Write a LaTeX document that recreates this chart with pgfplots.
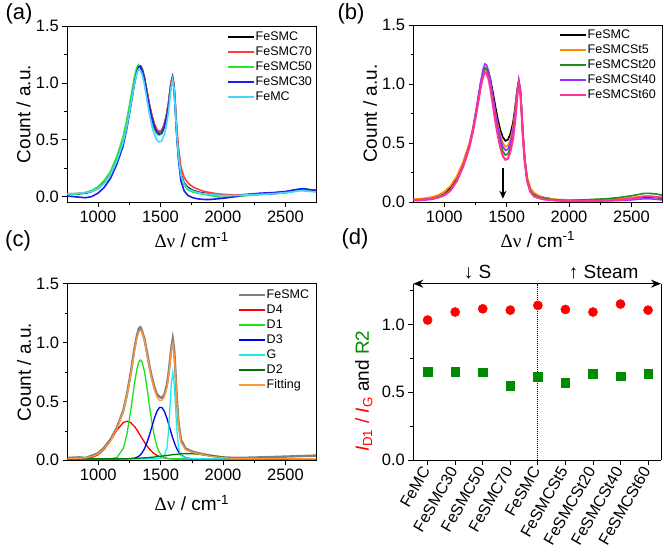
\documentclass[border=0pt]{standalone}
\usepackage{pgfplots}
\pgfplotsset{compat=1.18}
\usepackage{pgfplotstable}
\usepackage{fontspec}
\setmainfont{Liberation Sans}
\newfontfamily\grk{Liberation Serif}
\usetikzlibrary{arrows.meta}

\definecolor{aRed}{RGB}{255,60,60}
\definecolor{aGreen}{RGB}{40,230,40}
\definecolor{aBlue}{RGB}{30,30,235}
\definecolor{aCyan}{RGB}{70,215,255}
\definecolor{bOrange}{RGB}{255,140,0}
\definecolor{bGreen}{RGB}{30,140,30}
\definecolor{bPurple}{RGB}{150,50,255}
\definecolor{bPink}{RGB}{255,50,150}
\definecolor{cGray}{RGB}{128,128,128}
\definecolor{cRed}{RGB}{250,0,0}
\definecolor{cGreen}{RGB}{30,225,30}
\definecolor{cBlue}{RGB}{0,0,245}
\definecolor{cCyan}{RGB}{30,235,240}
\definecolor{cDGreen}{RGB}{0,120,0}
\definecolor{cOrange}{RGB}{255,150,60}
\definecolor{dRed}{RGB}{255,0,0}
\definecolor{dGreen}{RGB}{0,140,0}

\pgfplotstableread{
x k r g b c
750 0.020 0.025 0.020 0.005 0.025
800 0.020 0.025 0.020 0.000 0.025
850 0.025 0.030 0.025 -0.005 0.030
900 0.030 0.035 0.035 -0.010 0.035
950 0.045 0.050 0.055 0.000 0.045
1000 0.070 0.075 0.085 0.030 0.070
1050 0.120 0.120 0.140 0.080 0.115
1100 0.200 0.200 0.220 0.160 0.190
1150 0.320 0.320 0.350 0.280 0.310
1200 0.480 0.480 0.520 0.440 0.470
1230 0.620 0.620 0.670 0.590 0.610
1260 0.800 0.800 0.850 0.780 0.790
1290 1.000 0.990 1.040 0.980 0.980
1310 1.100 1.090 1.130 1.090 1.080
1325 1.150 1.140 1.160 1.140 1.120
1340 1.150 1.140 1.140 1.140 1.110
1355 1.120 1.110 1.090 1.100 1.070
1370 1.060 1.050 1.020 1.040 1.000
1390 0.940 0.940 0.900 0.920 0.870
1410 0.820 0.820 0.780 0.800 0.740
1430 0.720 0.720 0.680 0.700 0.630
1450 0.640 0.640 0.600 0.620 0.550
1470 0.590 0.590 0.550 0.570 0.500
1490 0.570 0.570 0.540 0.550 0.480
1510 0.580 0.580 0.550 0.560 0.490
1530 0.630 0.630 0.600 0.610 0.540
1550 0.720 0.730 0.690 0.700 0.640
1565 0.820 0.830 0.800 0.800 0.750
1575 0.910 0.920 0.890 0.890 0.850
1585 1.000 1.010 0.980 0.980 0.960
1597 1.050 1.060 1.030 1.040 1.030
1609 0.970 0.990 0.950 0.950 0.950
1619 0.800 0.830 0.780 0.770 0.780
1629 0.600 0.650 0.580 0.560 0.580
1644 0.380 0.440 0.360 0.330 0.360
1664 0.200 0.260 0.190 0.140 0.190
1690 0.120 0.170 0.100 0.050 0.110
1720 0.080 0.120 0.060 0.010 0.070
1760 0.055 0.085 0.040 -0.010 0.050
1800 0.040 0.065 0.030 -0.020 0.035
1850 0.030 0.045 0.020 -0.025 0.025
1900 0.020 0.035 0.010 -0.025 0.020
1950 0.015 0.025 0.000 -0.020 0.015
2000 0.010 0.020 -0.010 -0.015 0.010
2100 0.010 0.015 0.000 0.000 0.010
2200 0.015 0.020 0.010 0.020 0.015
2300 0.020 0.025 0.020 0.030 0.020
2400 0.025 0.030 0.030 0.035 0.025
2500 0.035 0.040 0.040 0.045 0.035
2550 0.045 0.050 0.050 0.055 0.040
2600 0.055 0.060 0.060 0.065 0.050
2650 0.060 0.065 0.060 0.070 0.050
2700 0.055 0.060 0.055 0.060 0.045
2750 0.050 0.055 0.050 0.055 0.040
}\tabA

\pgfplotstableread{
x k o g p m
750 0.020 0.025 0.020 0.015 0.020
800 0.020 0.030 0.020 0.015 0.020
850 0.025 0.035 0.025 0.020 0.025
900 0.030 0.045 0.030 0.025 0.030
950 0.045 0.060 0.045 0.040 0.040
1000 0.070 0.090 0.065 0.060 0.060
1050 0.120 0.140 0.110 0.100 0.100
1100 0.200 0.220 0.190 0.180 0.180
1150 0.320 0.340 0.310 0.300 0.300
1200 0.480 0.500 0.470 0.470 0.460
1230 0.620 0.630 0.610 0.620 0.600
1260 0.800 0.800 0.790 0.810 0.770
1290 0.990 0.980 0.990 1.010 0.960
1310 1.090 1.080 1.100 1.120 1.060
1325 1.130 1.120 1.140 1.170 1.100
1340 1.130 1.110 1.130 1.160 1.090
1355 1.100 1.070 1.090 1.110 1.040
1370 1.040 1.000 1.010 1.030 0.960
1390 0.930 0.880 0.870 0.890 0.820
1410 0.810 0.760 0.730 0.750 0.680
1430 0.700 0.650 0.600 0.630 0.560
1450 0.610 0.560 0.500 0.540 0.460
1470 0.550 0.500 0.430 0.470 0.390
1490 0.520 0.470 0.400 0.440 0.360
1510 0.530 0.480 0.410 0.450 0.370
1530 0.580 0.530 0.470 0.500 0.430
1550 0.670 0.630 0.570 0.600 0.530
1565 0.780 0.750 0.700 0.720 0.660
1575 0.870 0.850 0.800 0.820 0.770
1585 0.960 0.950 0.920 0.940 0.900
1597 1.020 1.020 1.010 1.040 1.000
1609 0.950 0.960 0.950 0.960 0.940
1619 0.790 0.800 0.780 0.790 0.770
1629 0.600 0.610 0.580 0.590 0.570
1644 0.380 0.390 0.360 0.360 0.350
1664 0.200 0.220 0.190 0.180 0.180
1690 0.110 0.120 0.100 0.090 0.090
1720 0.070 0.080 0.060 0.050 0.050
1760 0.050 0.055 0.045 0.035 0.035
1800 0.040 0.040 0.035 0.025 0.025
1850 0.030 0.030 0.025 0.020 0.020
1900 0.020 0.025 0.020 0.015 0.015
2000 0.015 0.020 0.015 0.010 0.010
2100 0.015 0.020 0.020 0.010 0.010
2200 0.020 0.020 0.025 0.010 0.012
2300 0.020 0.025 0.030 0.012 0.015
2400 0.025 0.030 0.040 0.015 0.020
2500 0.035 0.040 0.055 0.020 0.030
2550 0.040 0.045 0.065 0.025 0.040
2600 0.045 0.050 0.075 0.030 0.050
2650 0.045 0.050 0.075 0.030 0.050
2700 0.040 0.045 0.070 0.025 0.045
2750 0.035 0.040 0.060 0.020 0.040
}\tabB

\pgfplotstableread{
x dat fit dfour done dthree gg dtwo
750 0.020 0.015 0.012 0.012 0.012 0.012 0.012
850 0.025 0.017 0.013 0.012 0.012 0.012 0.012
900 0.020 0.021 0.016 0.012 0.012 0.012 0.012
950 0.040 0.031 0.025 0.012 0.012 0.012 0.012
1000 0.060 0.054 0.048 0.012 0.012 0.012 0.012
1050 0.110 0.100 0.096 0.012 0.012 0.012 0.012
1100 0.180 0.170 0.171 0.012 0.012 0.012 0.012
1150 0.280 0.270 0.258 0.025 0.012 0.012 0.012
1200 0.420 0.410 0.320 0.100 0.012 0.012 0.013
1230 0.560 0.550 0.332 0.223 0.012 0.012 0.014
1260 0.740 0.730 0.320 0.421 0.014 0.012 0.015
1290 0.950 0.930 0.288 0.652 0.018 0.012 0.016
1310 1.060 1.040 0.258 0.777 0.026 0.012 0.017
1325 1.120 1.090 0.232 0.835 0.035 0.012 0.018
1338 1.130 1.105 0.209 0.852 0.047 0.012 0.019
1350 1.100 1.090 0.188 0.838 0.062 0.012 0.019
1370 1.030 1.020 0.154 0.756 0.098 0.012 0.021
1390 0.920 0.910 0.123 0.622 0.149 0.012 0.022
1410 0.800 0.790 0.096 0.467 0.213 0.012 0.024
1430 0.700 0.680 0.073 0.321 0.286 0.012 0.026
1450 0.620 0.600 0.055 0.202 0.358 0.012 0.028
1470 0.560 0.540 0.042 0.119 0.415 0.013 0.031
1490 0.540 0.510 0.032 0.067 0.448 0.015 0.033
1510 0.530 0.510 0.025 0.037 0.448 0.020 0.036
1530 0.560 0.540 0.020 0.023 0.415 0.040 0.038
1550 0.640 0.620 0.017 0.016 0.358 0.100 0.041
1565 0.750 0.730 0.015 0.013 0.305 0.267 0.043
1575 0.850 0.830 0.014 0.012 0.268 0.458 0.045
1585 0.950 0.930 0.013 0.012 0.231 0.646 0.046
1597 1.030 0.990 0.012 0.012 0.190 0.747 0.048
1609 0.930 0.900 0.012 0.012 0.152 0.646 0.049
1619 0.740 0.720 0.012 0.012 0.124 0.458 0.050
1629 0.540 0.520 0.012 0.012 0.100 0.267 0.051
1644 0.310 0.290 0.012 0.012 0.072 0.100 0.053
1664 0.170 0.150 0.012 0.012 0.045 0.040 0.055
1700 0.100 0.090 0.012 0.012 0.021 0.020 0.057
1750 0.075 0.068 0.012 0.012 0.013 0.014 0.056
1800 0.060 0.055 0.012 0.012 0.012 0.012 0.052
1900 0.040 0.035 0.012 0.012 0.012 0.012 0.038
2000 0.025 0.022 0.012 0.012 0.012 0.012 0.024
2100 0.020 0.016 0.012 0.012 0.012 0.012 0.016
2200 0.022 0.014 0.012 0.012 0.012 0.012 0.013
2400 0.028 0.013 0.012 0.012 0.012 0.012 0.012
2600 0.035 0.012 0.012 0.012 0.012 0.012 0.012
2750 0.040 0.012 0.012 0.012 0.012 0.012 0.012
}\tabC

\pgfplotstableread{
x r g
0 1.032 0.651
1 1.091 0.649
2 1.115 0.646
3 1.105 0.550
4 1.140 0.614
5 1.110 0.570
6 1.091 0.636
7 1.150 0.619
8 1.105 0.636
}\tabD

\pgfplotsset{
  common/.style={
    scale only axis,
    tick align=outside,
    major tick length=5pt,
    minor tick length=3pt,
    every tick/.style={black, line width=0.7pt},
    axis line style={line width=0.7pt},
    tick label style={font=\fontsize{16.5}{18}\selectfont},
    /pgf/number format/assume math mode=true,
    yticklabel style={/pgf/number format/.cd, fixed, fixed zerofill, precision=1, assume math mode=true},
    label style={font=\fontsize{19}{21}\selectfont},
    xlabel style={anchor=center},
    ylabel style={anchor=center},
  },
  spec/.style={
    common,
    xmin=755, xmax=2745, ymax=1.5,
    tick pos=left,
    xtick={1000,1500,2000,2500},
    minor x tick num=1,
    ytick={0,0.5,1,1.5},
    minor y tick num=1,
    xticklabel style={/pgf/number format/.cd, 1000 sep={}, assume math mode=true},
    xlabel={{\grk Δν} / cm\textsuperscript{-1}},
    ylabel={Count / a.u.},
    ylabel style={at={(axis description cs:-0.176,0.5)}},
    legend style={draw=none, fill=none, anchor=north west, inner sep=0pt, outer sep=0pt,
      font=\fontsize{12.5}{14}\selectfont, row sep=0pt,
      nodes={inner sep=1.5pt, text height=9.5pt, text depth=2.5pt}},
    legend cell align=left,
    legend image code/.code={\draw[#1, line width=1.2pt] (0pt,0pt) -- (26pt,0pt);},
    every axis plot/.append style={line width=1.6pt},
  },
}

\begin{document}
\begin{tikzpicture}
% (a)
\begin{axis}[spec, at={(67.3pt,352.7pt)}, anchor=south west, width=248.7pt, height=176.3pt,
  ymin=-0.05,
  xlabel style={at={(axis description cs:0.5,-0.215)}},
  legend style={at={(rel axis cs:0.642,0.98)}}]
\addplot[black] table[x=x,y=k]{\tabA};
\addplot[aRed] table[x=x,y=r]{\tabA};
\addplot[aGreen] table[x=x,y=g]{\tabA};
\addplot[aBlue] table[x=x,y=b]{\tabA};
\addplot[aCyan] table[x=x,y=c]{\tabA};
\legend{FeSMC,FeSMC70,FeSMC50,FeSMC30,FeMC}
\end{axis}
% (b)
\begin{axis}[spec, at={(413.7pt,352.7pt)}, anchor=south west, width=248.3pt, height=177.3pt,
  ymin=0,
  xlabel style={at={(axis description cs:0.5,-0.21)}},
  legend style={at={(rel axis cs:0.585,0.986)}}]
\addplot[black] table[x=x,y=k]{\tabB};
\addplot[bOrange] table[x=x,y=o]{\tabB};
\addplot[bGreen] table[x=x,y=g]{\tabB};
\addplot[bPurple] table[x=x,y=p]{\tabB};
\addplot[bPink, line width=2.1pt] table[x=x,y=m]{\tabB};
\legend{FeSMC,FeSMCSt5,FeSMCSt20,FeSMCSt40,FeSMCSt60}
\draw[-{Stealth[length=8pt,width=7pt]}, line width=1.4pt] (axis cs:1470,0.29) -- (axis cs:1470,0.03);
\end{axis}
% (c)
\begin{axis}[spec, at={(67.7pt,94.7pt)}, anchor=south west, width=248.3pt, height=176.6pt,
  ymin=0,
  xlabel style={at={(axis description cs:0.5,-0.242)}},
  legend style={at={(rel axis cs:0.686,0.978)}}]
\addplot[cGray, line width=2.4pt] table[x=x,y=dat]{\tabC};
\addplot[cRed, line width=1.3pt] table[x=x,y=dfour]{\tabC};
\addplot[cGreen, line width=1.3pt] table[x=x,y=done]{\tabC};
\addplot[cBlue, line width=1.3pt] table[x=x,y=dthree]{\tabC};
\addplot[cCyan, line width=1.3pt] table[x=x,y=gg]{\tabC};
\addplot[cDGreen, line width=1.3pt] table[x=x,y=dtwo]{\tabC};
\addplot[cOrange, line width=1.3pt] table[x=x,y=fit]{\tabC};
\legend{FeSMC,D4,D1,D3,G,D2,Fitting}
\end{axis}
% (d)
\begin{axis}[common, at={(413.3pt,95pt)}, anchor=south west, width=247.7pt, height=176.3pt,
  xmin=-0.52, xmax=8.47, ymin=0, ymax=1.3,
  axis x line*=bottom, axis y line*=left,
  xtick={0,...,8},
  xticklabels={FeMC,FeSMC30,FeSMC50,FeSMC70,FeSMC,FeSMCSt5,FeSMCSt20,FeSMCSt40,FeSMCSt60},
  xticklabel style={rotate=60, anchor=east, font=\fontsize{16}{18}\selectfont},
  ytick={0,0.5,1},
  minor ytick={0.25,0.75,1.25},
  clip=false,
  ylabel={\textcolor{dRed}{\textit{I}\textsubscript{D1} / \textit{I}\textsubscript{G}} and \textcolor{dGreen}{R2}},
  ylabel style={at={(axis description cs:-0.2,0.39)}}]
\addplot[only marks, mark=*, mark size=4.6pt, dRed, mark options={draw=none, fill=dRed}] table[x=x,y=r]{\tabD};
\addplot[only marks, mark=square*, mark size=4.3pt, dGreen, mark options={draw=none, fill=dGreen}] table[x=x,y=g]{\tabD};
\draw[line width=0.7pt] (rel axis cs:1,0) -- (rel axis cs:1,1);
\draw[densely dotted, line width=1pt] (axis cs:4,0) -- (axis cs:4,1.3);
\draw[{Stealth[length=10pt,width=8pt]}-{Stealth[length=10pt,width=8pt]}, line width=1.3pt] (rel axis cs:0,1) -- (rel axis cs:1,1);
\node[font=\fontsize{19}{21}\selectfont, anchor=base] at (axis cs:1.81,1.3) [yshift=5pt] {↓ S};
\node[font=\fontsize{19}{21}\selectfont, anchor=base] at (axis cs:6.39,1.3) [yshift=5pt] {↑ Steam};
\end{axis}
% panel labels
\node[font=\fontsize{22}{24}\selectfont] at (19pt,541pt) {(a)};
\node[font=\fontsize{22}{24}\selectfont] at (351pt,541pt) {(b)};
\node[font=\fontsize{22}{24}\selectfont] at (18pt,314pt) {(c)};
\node[font=\fontsize{22}{24}\selectfont] at (355pt,316pt) {(d)};
\pgfresetboundingbox
\path[use as bounding box] (0,0) rectangle (664pt,555pt);
\end{tikzpicture}
\end{document}
